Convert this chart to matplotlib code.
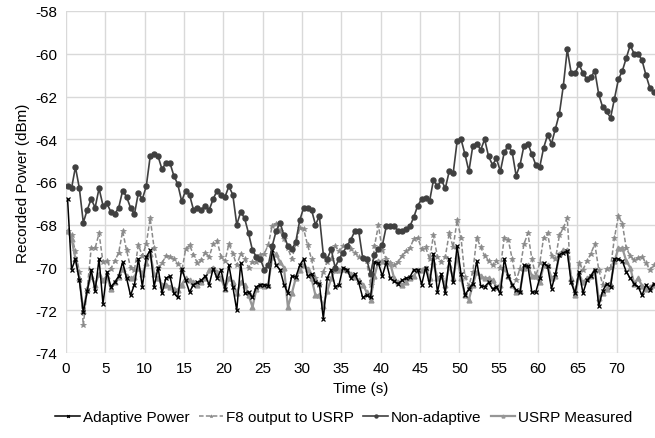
import numpy as np
import matplotlib
matplotlib.use("Agg")
import matplotlib.pyplot as plt

plt.rcParams['font.family'] = ['Liberation Sans', 'DejaVu Sans']
plt.rcParams['axes.unicode_minus'] = False

# time samples (s)
time = np.arange(150) * 0.5 + 0.2

adaptive = [
    -66.8, -70.1, -69.6, -70.6, -72.1, -71.1, -70.1, -71.1, -69.6, -71.7,
    -70.2, -70.9, -70.7, -70.4, -69.75, -70.5, -71.3, -70.8, -69.6, -70.9,
    -69.5, -69.2, -70.9, -70.0, -71.2, -70.5, -70.4, -71.2, -71.4, -70.05,
    -70.6, -71.15, -70.8, -70.7, -70.6, -70.4, -70.8, -70.05, -70.5, -70.1,
    -71.0, -69.9, -70.9, -72.0, -69.8, -71.2, -71.15, -71.4, -70.9, -70.8,
    -70.8, -70.85, -69.2, -69.9, -70.1, -70.8, -71.2, -70.4, -70.45, -69.9,
    -69.6, -70.4, -70.3, -70.7, -70.75, -72.4, -70.5, -70.1, -70.9, -70.8,
    -70.0, -70.1, -70.5, -70.3, -70.7, -71.4, -71.3, -71.4, -69.75, -69.8,
    -70.4, -69.75, -70.5, -70.65, -70.75, -70.6, -70.5, -70.45, -70.1, -70.1,
    -70.8, -70.0, -70.8, -69.35, -71.15, -70.3, -71.2, -69.6, -70.7, -69.0,
    -70.3, -71.3, -71.0, -70.75, -69.7, -70.85, -70.9, -70.7, -71.0, -70.9,
    -71.2, -69.6, -70.4, -70.8, -71.05, -71.15, -69.9, -69.95, -71.15, -71.15,
    -70.5, -69.8, -69.95, -71.0, -70.3, -69.4, -69.3, -69.25, -70.7, -71.2,
    -70.2, -71.2, -70.6, -70.4, -70.1, -71.8, -71.1, -70.75, -70.9, -69.6,
    -69.6, -69.7, -70.2, -70.5, -70.75, -70.9, -71.3, -70.8, -71.05, -70.75]

f8_output = [
    -68.3, -68.5, -69.25, -70.2, -72.7, -71.0, -69.1, -69.1, -68.4, -69.75,
    -69.7, -70.05, -69.7, -69.3, -68.3, -69.2, -70.0, -70.1, -68.95, -69.45,
    -68.9, -67.7, -69.1, -70.0, -69.8, -69.45, -69.5, -69.6, -69.85, -70.2,
    -69.15, -68.95, -69.4, -69.8, -69.65, -69.3, -69.5, -68.9, -68.75, -69.5,
    -69.7, -68.9, -69.35, -69.9, -69.35, -69.6, -70.0, -69.75, -69.75, -69.4,
    -69.35, -68.95, -68.06, -67.95, -68.3, -68.65, -69.1, -69.6, -68.9, -68.15,
    -68.2, -68.95, -69.6, -70.5, -70.8, -70.2, -69.75, -69.6, -69.0, -69.25,
    -69.0, -69.0, -69.15, -69.3, -69.5, -69.55, -69.7, -70.8, -69.0, -68.03,
    -69.2, -69.6, -69.8, -69.9, -69.75, -69.45, -69.25, -69.1, -68.65, -68.6,
    -69.15, -69.05, -69.6, -68.5, -69.5, -69.75, -69.5, -68.4, -69.05, -67.8,
    -68.6, -70.45, -70.85, -70.2, -68.6, -69.05, -69.45, -69.7, -69.9, -69.7,
    -70.0, -68.6, -68.7, -69.6, -70.6, -70.05, -68.9, -68.4, -69.6, -70.4,
    -69.8, -68.6, -68.4, -69.45, -69.6, -68.5, -68.15, -67.7, -70.7, -71.2,
    -69.8, -70.1, -69.7, -69.35, -68.9, -70.1, -70.8, -70.05, -70.0, -68.6,
    -67.6, -67.95, -69.1, -69.45, -69.65, -69.55, -69.5, -69.8, -70.1, -69.9]

non_adaptive = [
    -66.2, -66.3, -65.3, -66.3, -67.9, -67.3, -66.8, -67.2, -66.3, -67.1,
    -67.0, -67.4, -67.5, -67.2, -66.4, -66.7, -67.2, -67.5, -66.5, -66.8,
    -66.2, -64.8, -64.7, -64.8, -65.4, -65.1, -65.1, -65.7, -66.1, -66.9,
    -66.4, -66.6, -67.3, -67.2, -67.3, -67.1, -67.3, -66.8, -66.4, -66.6,
    -66.7, -66.2, -66.6, -68.0, -67.4, -67.7, -68.4, -69.2, -69.5, -69.6,
    -70.1, -69.9, -69.0, -68.3, -67.9, -68.5, -69.0, -69.15, -68.8, -67.8,
    -67.2, -67.2, -67.3, -68.0, -67.6, -69.4, -69.6, -69.15, -70.0, -69.6,
    -69.3, -69.0, -68.7, -68.3, -68.3, -69.55, -69.6, -70.3, -69.4, -69.15,
    -68.97, -68.08, -68.08, -68.08, -68.27, -68.27, -68.2, -68.08, -67.64, -67.1,
    -66.8, -66.75, -66.9, -65.9, -66.2, -65.9, -66.3, -65.5, -65.6, -64.1,
    -64.0, -64.7, -65.5, -64.3, -64.2, -64.5, -64.0, -64.8, -65.2, -64.9,
    -65.5, -64.6, -64.3, -64.6, -65.7, -65.2, -64.3, -64.2, -64.7, -65.2,
    -65.3, -64.4, -63.8, -64.2, -63.5, -62.8, -61.5, -59.8, -60.9, -60.9,
    -60.5, -60.9, -61.2, -61.1, -60.8, -61.9, -62.5, -62.7, -63.0, -62.1,
    -61.2, -60.8, -60.2, -59.6, -60.0, -60.0, -60.3, -61.0, -61.6, -61.8]

usrp_measured = [
    -68.3, -68.65, -69.6, -70.5, -72.05, -71.0, -70.4, -70.8, -70.3, -70.6,
    -70.4, -71.0, -70.7, -70.45, -70.05, -70.4, -70.5, -70.45, -70.0, -70.3,
    -69.8, -69.35, -70.3, -70.5, -70.8, -70.8, -70.9, -71.0, -71.05, -70.8,
    -70.5, -70.6, -70.7, -70.8, -70.7, -70.5, -70.1, -70.0, -70.2, -70.5,
    -71.0, -70.5, -70.7, -71.2, -70.7, -70.8, -71.3, -71.85, -71.0, -70.8,
    -70.85, -70.8, -69.5, -69.35, -69.75, -70.0, -71.85, -71.2, -70.5, -70.1,
    -69.9, -70.05, -70.5, -71.3, -71.3, -71.8, -71.1, -70.5, -70.1, -70.1,
    -70.05, -70.1, -70.3, -70.45, -70.6, -70.8, -71.15, -71.5, -70.4, -69.7,
    -69.7, -69.7, -69.8, -70.5, -70.7, -70.8, -70.7, -70.5, -70.4, -70.1,
    -70.1, -70.0, -70.5, -69.75, -70.5, -70.4, -70.8, -69.9, -70.5, -69.45,
    -70.5, -71.3, -71.5, -70.8, -70.2, -70.4, -70.5, -70.5, -70.6, -70.9,
    -70.8, -70.0, -70.4, -70.8, -71.15, -71.1, -70.0, -69.9, -70.4, -70.4,
    -70.7, -69.9, -69.9, -70.5, -70.4, -69.35, -69.2, -69.2, -70.5, -71.3,
    -70.4, -70.7, -70.5, -70.4, -70.1, -71.45, -71.2, -71.0, -70.8, -69.7,
    -69.1, -69.1, -69.7, -70.0, -70.75, -70.5, -70.85, -71.0, -70.9, -70.8]

x_ticks = [0, 5, 10, 15, 20, 25, 30, 35, 40, 45, 50, 55, 60, 65, 70]
y_ticks = [-74, -72, -70, -68, -66, -64, -62, -60, -58]

fig = plt.figure(figsize=(6.55, 4.39), dpi=100)
ax = fig.add_axes([66/655, 1 - 354/439, 1 - 66/655, (354 - 12)/439])

ax.plot(time, adaptive, color='black', lw=1.1, marker='x', ms=3.2, mew=0.9,
        label='Adaptive Power', zorder=4)
ax.plot(time, f8_output, color='#8a8a8a', lw=1.1, ls=(0, (3, 1.5)), marker='*', ms=4,
        mew=0.5, label='F8 output to USRP', zorder=3)
ax.plot(time, non_adaptive, color='#404040', lw=1.2, marker='o', ms=3.6,
        label='Non-adaptive', zorder=5)
ax.plot(time, usrp_measured, color='#969696', lw=1.6, marker='^', ms=3.5,
        label='USRP Measured', zorder=3.5)

ax.set_xlim(0, 74.85)
ax.set_ylim(-74, -58)
ax.set_xticks(x_ticks)
ax.set_yticks(y_ticks)
ax.grid(True, color='#d9d9d9', lw=1)
ax.set_axisbelow(True)
for s in ax.spines.values():
    s.set_visible(False)
ax.tick_params(length=0, labelsize=11, colors='#000000', pad=6)
ax.set_xlabel('Time (s)', fontsize=11, labelpad=4)
ax.set_ylabel('Recorded Power (dBm)', fontsize=11, labelpad=4)

fig.legend(loc='lower center', bbox_to_anchor=(0.525, 0.0), ncol=4, frameon=False,
           fontsize=11, handlelength=1.6, handletextpad=0.2, columnspacing=0.6,
           markerscale=0.6)

fig.savefig('out.png', dpi=100)
